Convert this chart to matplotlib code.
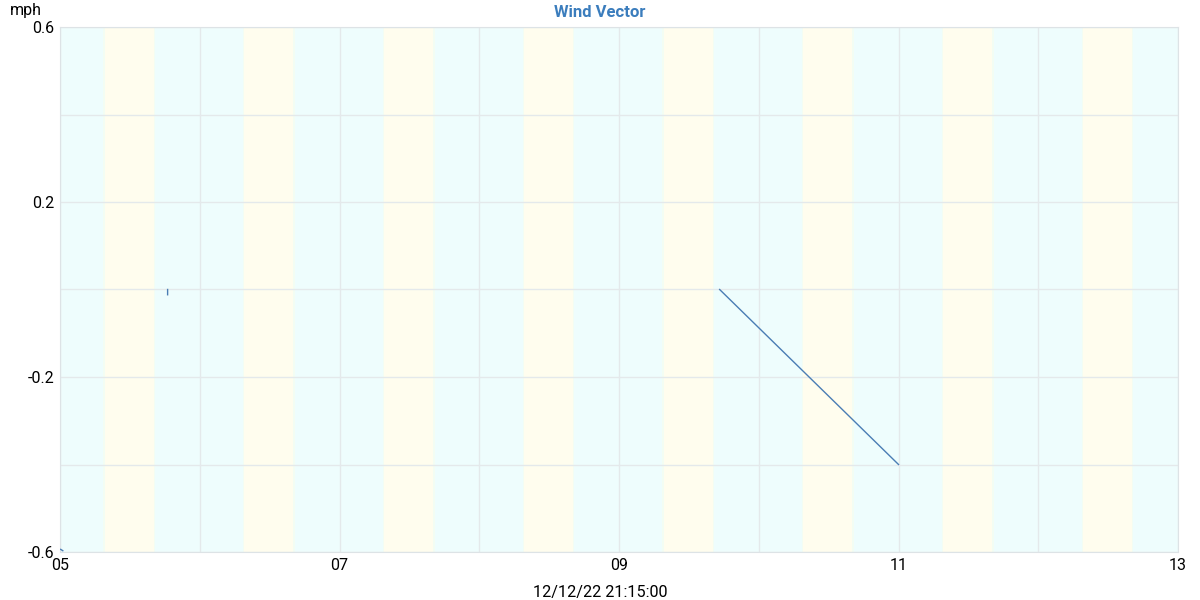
import matplotlib
matplotlib.use("Agg")
import matplotlib.pyplot as plt
import numpy as np

plt.rcParams['font.family'] = ['Roboto', 'DejaVu Sans']

# wind vector segments (hour of day, mph); NaN breaks the line between segments
hours = [5.005, 5.02, np.nan, 5.77, 5.77, np.nan, 9.72, 11.0]
vec = [-0.594, -0.597, np.nan, 0.0, -0.012, np.nan, 0.0, -0.4]

# daylight (yellow) bands within each hour cell
band_days = [5, 6, 7, 8, 9, 10, 11, 12]
band_start = 0.32
band_end = 0.67

x_ticks = [5, 7, 9, 11, 13]
x_ticklabels = ['05', '07', '09', '11', '13']
y_ticks = [0.6, 0.2, -0.2, -0.6]
y_ticklabels = ['0.6', '0.2', '-0.2', '-0.6']

cyan = '#eefdfd'
yellow = '#fffdee'
grid_c = '#e4e9eb'

fig = plt.figure(figsize=(12, 6), dpi=100)
ax = fig.add_axes([0.05, 0.08, 0.9817 - 0.05, 0.955 - 0.08])
ax.set_facecolor(cyan)

for d in band_days:
    ax.axvspan(d + band_start - 0.01, d + band_start, color='#f3fdf3', lw=0, zorder=0)
    ax.axvspan(d + band_start, d + band_end, color=yellow, lw=0, zorder=0)
    ax.axvspan(d + band_end, d + band_end + 0.01, color='#f3fdf3', lw=0, zorder=0)

for g in np.arange(5, 14, 1):
    ax.axvline(g, color=grid_c, lw=1, zorder=1)
for g in np.arange(-0.6, 0.61, 0.2):
    ax.axhline(g, color=grid_c, lw=1, zorder=1)

ax.plot(hours, vec, color='#4a7db4', lw=1, zorder=3)

ax.set_xlim(5, 13)
ax.set_ylim(-0.6, 0.6)
ax.set_xticks(x_ticks)
ax.set_xticklabels(x_ticklabels)
ax.set_yticks(y_ticks)
ax.set_yticklabels(y_ticklabels)
ax.tick_params(length=0, labelsize=11.5, pad=4)
for s in ax.spines.values():
    s.set_color('#dde3e6')

fig.text(0.5, 1 - 593 / 600, '12/12/22 21:15:00', fontsize=11.7, ha='center', va='center')
fig.text(0.5, 1 - 12.5 / 600, 'Wind Vector', color='#3b7dbd', fontweight='bold',
         fontsize=12, ha='center', va='center')
fig.text(0.008, 1 - 11 / 600, 'mph', fontsize=11.5, ha='left', va='center')

plt.savefig('out.png')
